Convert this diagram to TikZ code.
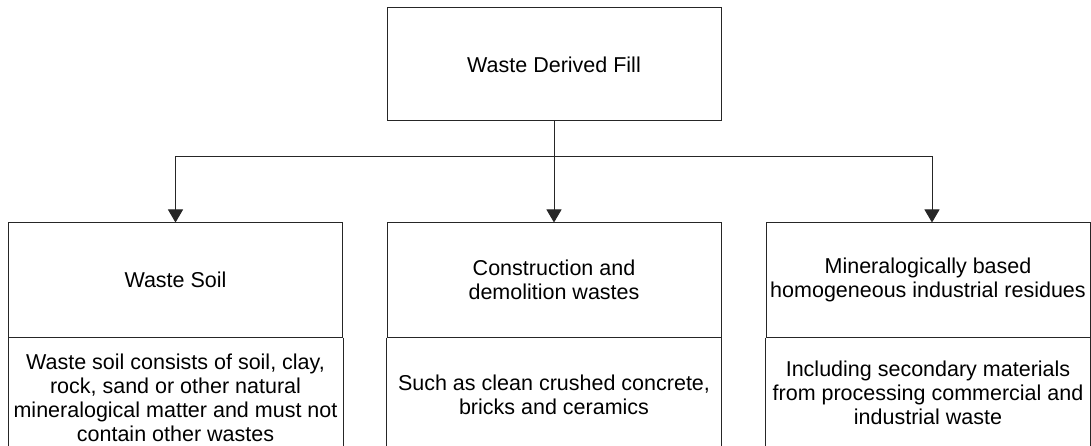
\documentclass[tikz,border=0pt]{standalone}
\usepackage{fontspec}
\setmainfont{Liberation Sans}
\usetikzlibrary{arrows.meta}
\newcommand\dfont{\fontsize{21.5}{24}\selectfont}
\begin{document}
\begin{tikzpicture}[x=1pt,y=-1pt,
  box/.style={draw=black!85,line width=1pt,minimum width=334pt,minimum height=114pt,inner sep=0pt,align=center,font=\dfont},
  txt/.style={align=center,font=\dfont,inner sep=0pt},
  conn/.style={draw=black!85,line width=1pt},
  arr/.style={conn,-{Triangle[width=15pt,length=13pt]}}]
\useasboundingbox[fill=white] (0,0) rectangle (1091,446);
\coordinate (bottom) at (0,446);
\coordinate (bus) at (554,157);

\node[box,minimum height=113pt] (top) at (554,64.5) {Waste Derived Fill};

\node[box] (soil) at (175.5,280) {Waste Soil};
\node[box] (cdw) at (554,280) {Construction and\\demolition wastes};
\node[box,minimum width=324pt] (min) at (928,280) {Mineralogically based\\homogeneous industrial residues};

\node[txt] (soild) at (175.5,398) {Waste soil consists of soil, clay,\\rock, sand or other natural\\mineralogical matter and must not\\contain other wastes};
\node[txt] (cdwd) at (554,395) {Such as clean crushed concrete,\\bricks and ceramics};
\node[txt] (mind) at (928,393) {Including secondary materials\\from processing commercial and\\industrial waste};

\foreach \n in {soil,cdw,min}{
  \draw[conn] (\n.south west) -- (\n.south west |- bottom);
  \draw[conn] (\n.south east) -- (\n.south east |- bottom);
}

\draw[conn] (top.south) -- (bus);
\draw[arr] (bus) -| (soil.north);
\draw[arr] (bus) -- (cdw.north);
\draw[arr] (bus) -| ([xshift=4pt]min.north);
\end{tikzpicture}
\end{document}
